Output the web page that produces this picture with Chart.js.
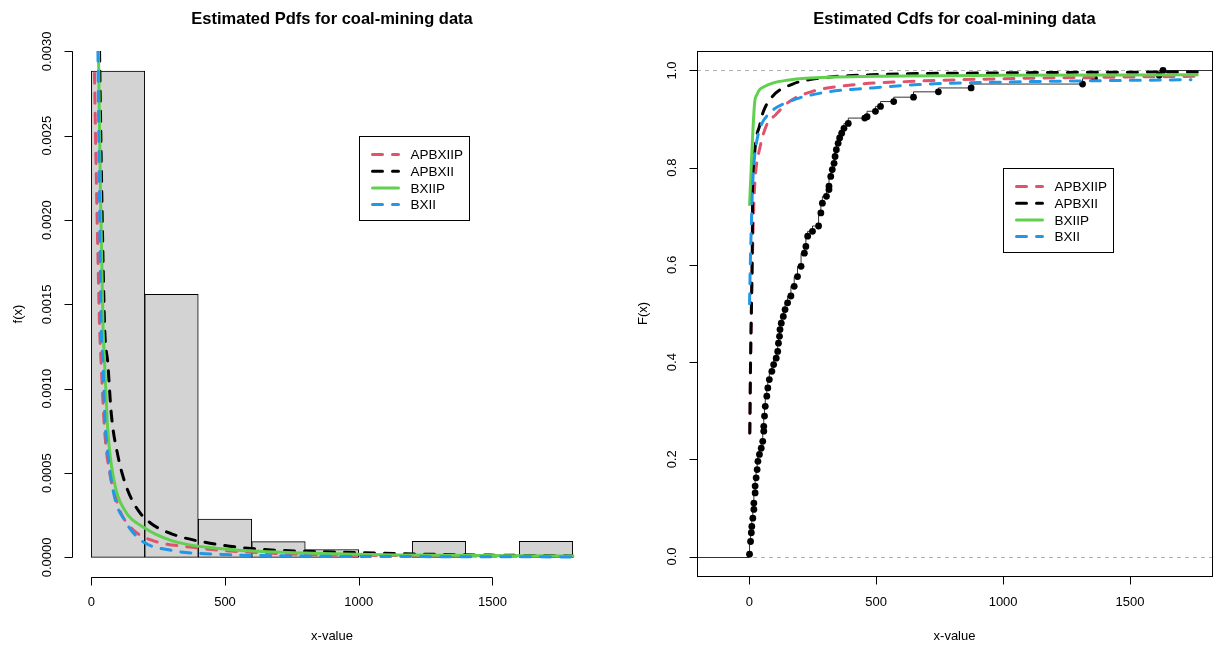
<!DOCTYPE html>
<html>
<head>
<meta charset="utf-8">
<script src="https://cdn.jsdelivr.net/npm/chart.js@4.4.1/dist/chart.umd.min.js"></script>
<style>
  body { margin: 0; background: #fff; }
  canvas { position: absolute; top: 0; }
  #pdf { left: 0; }
  #cdf { left: 608px; }
</style>
</head>
<body>
<canvas id="pdf" width="608" height="648"></canvas>
<canvas id="cdf" width="608" height="648"></canvas>
<script>
/* ===========================
   DATA
=========================== */
const modelNames = ["APBXIIP", "APBXII", "BXIIP", "BXII"];
const modelColors = ["#DF536B", "#000000", "#61D04F", "#2297E6"];
const modelDashed = [true, true, false, true];

// histogram, bins of width 200
const binMids = [100, 300, 500, 700, 900, 1100, 1300, 1500, 1700];
const binDensity = [0.002883, 0.001559, 0.000227, 0.000094, 0.000047, 0, 0.000096, 0, 0.000096];

// estimated pdfs
const apbxiipPdfX = [12, 19, 27, 31, 37, 50, 69, 90, 112, 140, 175, 220, 275, 380, 487, 650, 800, 1200, 1800];
const apbxiipPdfY = [0.00287, 0.00224, 0.00164, 0.00137, 0.00115, 0.00075, 0.0005, 0.00036, 0.00026, 0.00019, 0.00014, 0.000105, 0.000081, 0.00006, 0.000042, 0.000027, 0.000018, 0.00001, 0.000006];
const apbxiiPdfX = [31, 40, 50, 62, 75, 100, 131, 175, 225, 300, 424, 612, 924, 1300, 1800];
const apbxiiPdfY = [0.003, 0.0021, 0.00137, 0.00115, 0.00085, 0.0006, 0.00042, 0.00028, 0.0002, 0.00014, 0.00009, 0.000051, 0.000032, 0.000018, 0.000009];
const bxiipPdfX = [27, 35, 44, 50, 62, 87, 125, 194, 300, 487, 800, 1200, 1800];
const bxiipPdfY = [0.003, 0.0021, 0.00137, 0.00115, 0.00075, 0.00044, 0.00028, 0.00018, 0.0001, 0.000051, 0.000026, 0.000014, 0.000008];
const bxiiPdfX = [25, 31, 37, 44, 50, 62, 87, 125, 187, 300, 487, 800, 1200, 1800];
const bxiiPdfY = [0.003, 0.0021, 0.00137, 0.00115, 0.00085, 0.000615, 0.000358, 0.00022, 0.0001, 0.000042, 0.000018, 0.000008, 0.000005, 0.000003];

// empirical cdf
const ecdfX = [1, 5, 8, 10, 14, 18, 18, 23, 23, 27, 31, 34, 40, 47, 53, 57, 57, 60, 63, 69,
  73, 79, 89, 96, 106, 112, 115, 119, 121, 126, 134, 141, 151, 164, 177, 190, 204, 217, 223, 230,
  249, 273, 282, 288, 304, 314, 314, 321, 327, 334, 338, 343, 350, 356, 364, 373, 390, 455, 464, 497,
  517, 569, 647, 745, 874, 1313, 1360, 1615, 1630];
const ecdfY = [0.005, 0.031, 0.049, 0.062, 0.079, 0.097, 0.110, 0.131, 0.145, 0.162, 0.179, 0.196, 0.210, 0.223, 0.237, 0.258, 0.268, 0.289, 0.309, 0.330,
  0.347, 0.364, 0.381, 0.395, 0.408, 0.422, 0.439, 0.453, 0.467, 0.480, 0.494, 0.508, 0.522, 0.536, 0.556, 0.576, 0.597, 0.624, 0.638, 0.659,
  0.669, 0.680, 0.707, 0.727, 0.741, 0.755, 0.762, 0.782, 0.796, 0.809, 0.823, 0.837, 0.850, 0.861, 0.871, 0.881, 0.891, 0.902, 0.905, 0.916,
  0.926, 0.936, 0.945, 0.956, 0.964, 0.972, 0.983, 0.990, 1.0];

// estimated cdfs
const apbxiipCdfX = [2, 5, 9, 13, 17, 21, 27, 40, 66, 106, 158, 249, 419, 615, 1000, 1765];
const apbxiipCdfY = [0.254, 0.40, 0.53, 0.63, 0.71, 0.76, 0.80, 0.837, 0.885, 0.91, 0.936, 0.957, 0.971, 0.977, 0.983, 0.988];
const apbxiiCdfX = [2, 5, 9, 12, 13, 16, 21, 27, 40, 53, 92, 171, 275, 483, 1000, 1765];
const apbxiiCdfY = [0.254, 0.40, 0.53, 0.65, 0.75, 0.80, 0.83, 0.86, 0.885, 0.912, 0.947, 0.972, 0.984, 0.991, 0.995, 0.997];
const bxiipCdfX = [1, 21, 30, 40, 60, 92, 150, 223, 500, 1000, 1765];
const bxiipCdfY = [0.724, 0.933, 0.95, 0.96, 0.967, 0.974, 0.98, 0.984, 0.988, 0.99, 0.991];
const bxiiCdfX = [1, 4, 8, 12, 17, 25, 40, 80, 158, 288, 484, 667, 1000, 1740];
const bxiiCdfY = [0.52, 0.60, 0.68, 0.75, 0.80, 0.84, 0.878, 0.912, 0.936, 0.954, 0.964, 0.971, 0.976, 0.981];

// axis ticks
const pdfXTicks = [0, 500, 1000, 1500];
const pdfYTicks = [0, 0.0005, 0.001, 0.0015, 0.002, 0.0025, 0.003];
const pdfYTickLabels = ["0.0000", "0.0005", "0.0010", "0.0015", "0.0020", "0.0025", "0.0030"];
const cdfXTicks = [0, 500, 1000, 1500];
const cdfYTicks = [0, 0.2, 0.4, 0.6, 0.8, 1.0];
const cdfYTickLabels = ["0.0", "0.2", "0.4", "0.6", "0.8", "1.0"];

/* ===========================
   UTILS
=========================== */
const FONT = '"Liberation Sans", Arial, sans-serif';

function pts(xs, ys) {
  return xs.map((x, i) => ({ x, y: ys[i] }));
}

function curve(i, xs, ys) {
  return {
    type: "line",
    label: modelNames[i],
    data: pts(xs, ys),
    borderColor: modelColors[i],
    borderWidth: 3,
    borderDash: modelDashed[i] ? [10, 10] : [],
    borderCapStyle: "round",
    cubicInterpolationMode: "monotone",
    pointRadius: 0,
    fill: false,
    clip: 0,
    order: 4 - i
  };
}

// per-chart frame settings (titles, ticks, legend spot)
const frames = {
  pdf: {
    title: "Estimated Pdfs for coal-mining data",
    ylab: "f(x)", xTicks: pdfXTicks, yTicks: pdfYTicks, yLabels: pdfYTickLabels,
    box: false, legendAt: [1000, 0.0025], ylabX: 18
  },
  cdf: {
    title: "Estimated Cdfs for coal-mining data",
    ylab: "F(x)", xTicks: cdfXTicks, yTicks: cdfYTicks, yLabels: cdfYTickLabels,
    box: true, legendAt: [1000, 0.8], ylabX: 35, refLines: true
  }
};

/* ===========================
   R-STYLE FRAME PLUGIN
=========================== */
const rFrame = {
  id: "rFrame",
  beforeDatasetsDraw(chart) {
    const f = frames[chart.canvas.id];
    if (!f.refLines) return;
    const { ctx, chartArea: a, scales: { x, y } } = chart;
    ctx.save();
    ctx.lineWidth = 1;
    ctx.strokeStyle = "#B3B3B3";
    ctx.setLineDash([4, 4]);
    [0, 1].forEach(v => {
      const py = Math.round(y.getPixelForValue(v)) + 0.5;
      ctx.beginPath(); ctx.moveTo(a.left, py); ctx.lineTo(a.right, py); ctx.stroke();
    });
    // ecdf tails
    ctx.setLineDash([]);
    ctx.strokeStyle = "#333";
    const p0 = Math.round(y.getPixelForValue(0)) + 0.5;
    const p1 = Math.round(y.getPixelForValue(1)) + 0.5;
    ctx.beginPath();
    ctx.moveTo(a.left, p0); ctx.lineTo(x.getPixelForValue(ecdfX[0]), p0);
    ctx.moveTo(x.getPixelForValue(ecdfX[ecdfX.length - 1]), p1); ctx.lineTo(a.right, p1);
    ctx.stroke();
    ctx.restore();
  },
  afterDraw(chart) {
    const f = frames[chart.canvas.id];
    const { ctx, chartArea: a, scales: { x, y } } = chart;
    ctx.save();
    ctx.strokeStyle = "#000";
    ctx.fillStyle = "#000";
    ctx.lineWidth = 1;
    ctx.setLineDash([]);

    if (f.box) ctx.strokeRect(Math.round(a.left) + 0.5, Math.round(a.top) + 0.5, Math.round(a.width), Math.round(a.height));

    // x axis
    const xb = Math.round(a.bottom) + 0.5;
    ctx.beginPath();
    ctx.moveTo(x.getPixelForValue(f.xTicks[0]), xb);
    ctx.lineTo(x.getPixelForValue(f.xTicks[f.xTicks.length - 1]), xb);
    f.xTicks.forEach(v => {
      const px = Math.round(x.getPixelForValue(v)) + 0.5;
      ctx.moveTo(px, xb); ctx.lineTo(px, xb + 8);
    });
    // y axis
    const yl = Math.round(a.left) + 0.5;
    ctx.moveTo(yl, y.getPixelForValue(f.yTicks[0]));
    ctx.lineTo(yl, y.getPixelForValue(f.yTicks[f.yTicks.length - 1]));
    f.yTicks.forEach(v => {
      const py = Math.round(y.getPixelForValue(v)) + 0.5;
      ctx.moveTo(yl, py); ctx.lineTo(yl - 8, py);
    });
    ctx.stroke();

    ctx.font = "13px " + FONT;
    ctx.textAlign = "center";
    ctx.textBaseline = "middle";
    f.xTicks.forEach(v => ctx.fillText(String(v), x.getPixelForValue(v), 602));
    f.yTicks.forEach((v, i) => {
      ctx.save();
      ctx.translate(a.left - 25, y.getPixelForValue(v));
      ctx.rotate(-Math.PI / 2);
      ctx.fillText(f.yLabels[i], 0, 0);
      ctx.restore();
    });

    // axis titles
    const cx = (a.left + a.right) / 2;
    ctx.fillText("x-value", cx, 636);
    ctx.save();
    ctx.translate(f.ylabX, (a.top + a.bottom) / 2);
    ctx.rotate(-Math.PI / 2);
    ctx.fillText(f.ylab, 0, 0);
    ctx.restore();

    // main title
    ctx.font = "bold 16.5px " + FONT;
    ctx.fillText(f.title, cx, 19);

    // legend
    const lx = Math.round(x.getPixelForValue(f.legendAt[0])) + 0.5;
    const ly = Math.round(y.getPixelForValue(f.legendAt[1])) + 0.5;
    ctx.strokeRect(lx, ly, 110, 84);
    ctx.font = "13.5px " + FONT;
    ctx.textAlign = "left";
    modelNames.forEach((name, i) => {
      const yy = ly + 18 + i * 16.7;
      ctx.save();
      ctx.beginPath();
      ctx.lineWidth = 3;
      ctx.lineCap = "round";
      ctx.strokeStyle = modelColors[i];
      ctx.setLineDash(modelDashed[i] ? [10, 10] : []);
      ctx.moveTo(lx + 13, yy); ctx.lineTo(lx + 39, yy);
      ctx.stroke();
      ctx.restore();
      ctx.fillText(name, lx + 51, yy + 1);
    });
    ctx.restore();
  }
};

const common = {
  responsive: false,
  animation: false,
  devicePixelRatio: 1,
  plugins: { legend: { display: false }, tooltip: { enabled: false }, title: { display: false } }
};

/* ===========================
   LEFT: HISTOGRAM + PDFs
=========================== */
new Chart(document.getElementById("pdf"), {
  type: "bar",
  data: {
    datasets: [
      curve(0, apbxiipPdfX, apbxiipPdfY),
      curve(1, apbxiiPdfX, apbxiiPdfY),
      curve(2, bxiipPdfX, bxiipPdfY),
      curve(3, bxiiPdfX, bxiiPdfY),
      {
        type: "bar",
        label: "hist",
        data: pts(binMids, binDensity),
        backgroundColor: "#D3D3D3",
        borderColor: "#000",
        borderWidth: 1,
        borderSkipped: false,
        barPercentage: 1,
        categoryPercentage: 1,
        order: 10
      }
    ]
  },
  options: {
    ...common,
    layout: { padding: { left: 72, top: 51, right: 16, bottom: 71 } },
    scales: {
      x: { type: "linear", min: -72, max: 1872, offset: false, display: false },
      y: { type: "linear", min: -0.000116, max: 0.003002, display: false }
    }
  },
  plugins: [rFrame]
});

/* ===========================
   RIGHT: ECDF + CDFs
=========================== */
new Chart(document.getElementById("cdf"), {
  type: "line",
  data: {
    datasets: [
      curve(0, apbxiipCdfX, apbxiipCdfY),
      curve(1, apbxiiCdfX, apbxiiCdfY),
      curve(2, bxiipCdfX, bxiipCdfY),
      curve(3, bxiiCdfX, bxiiCdfY),
      {
        label: "ecdf",
        data: pts(ecdfX, ecdfY),
        stepped: "after",
        borderColor: "#333",
        borderWidth: 1,
        pointRadius: 3.4,
        pointBorderWidth: 0,
        pointBackgroundColor: "#000",
        order: 10
      }
    ]
  },
  options: {
    ...common,
    layout: { padding: { left: 89, top: 51, right: 1, bottom: 72 } },
    scales: {
      x: { type: "linear", min: -206, max: 1823, display: false },
      y: { type: "linear", min: -0.04, max: 1.04, display: false }
    }
  },
  plugins: [rFrame]
});
</script>
</body>
</html>
